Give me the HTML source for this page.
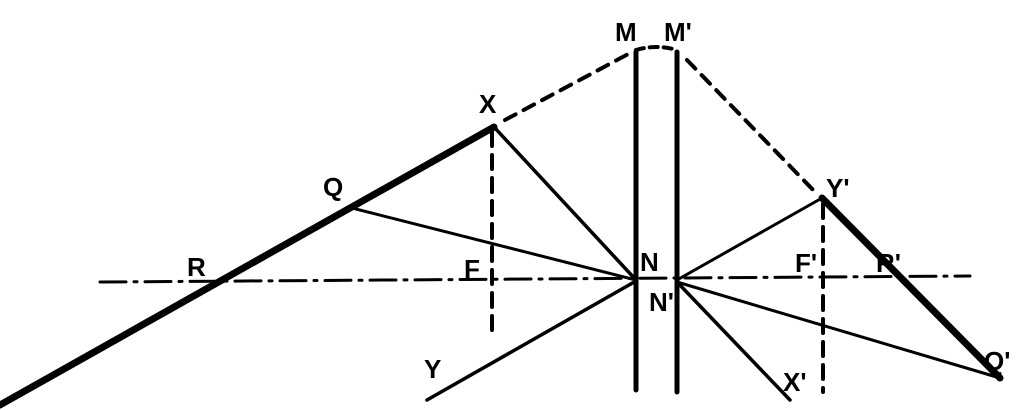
<!DOCTYPE html>
<html><head><style>
html,body{margin:0;padding:0;background:#fff;}
svg{display:block}
text{font-family:"Liberation Sans",sans-serif;font-weight:bold;font-size:26px;fill:#000}
</style></head><body>
<svg width="1024" height="410" viewBox="0 0 1024 410">
<g stroke="#000" fill="none" stroke-linecap="round">
<line x1="100" y1="282" x2="970" y2="276" stroke-width="3" stroke-dasharray="26,8,3,8"/>
<line x1="0" y1="405" x2="494" y2="127" stroke-width="7"/>
<line x1="822" y1="198" x2="1000" y2="378" stroke-width="7"/>
<line x1="636" y1="52" x2="636" y2="390" stroke-width="5"/>
<line x1="677" y1="52" x2="677" y2="392" stroke-width="5"/>
<path d="M636 50 Q656 44 677 50" stroke-width="4" stroke-dasharray="8,6"/>
<line x1="505" y1="120" x2="632" y2="52" stroke-width="4" stroke-dasharray="12,9"/>
<line x1="687" y1="60" x2="818" y2="195" stroke-width="4" stroke-dasharray="12,9"/>
<line x1="492" y1="132" x2="492" y2="330" stroke-width="4" stroke-dasharray="14,9"/>
<line x1="823" y1="204" x2="823" y2="392" stroke-width="4" stroke-dasharray="14,9"/>
<line x1="494" y1="127" x2="636" y2="280" stroke-width="3.5"/>
<line x1="348" y1="207" x2="636" y2="280" stroke-width="3"/>
<line x1="427" y1="400" x2="636" y2="281" stroke-width="3.5"/>
<line x1="677" y1="280" x2="822" y2="198" stroke-width="3"/>
<line x1="677" y1="282" x2="1000" y2="378" stroke-width="3"/>
<line x1="677" y1="282" x2="790" y2="400" stroke-width="3.5"/>
</g>
<text x="615" y="41">M</text><text x="664" y="41">M'</text>
<text x="479" y="113">X</text><text x="323" y="196">Q</text>
<text x="187" y="276">R</text><text x="464" y="278">F</text>
<text x="640" y="271">N</text><text x="649" y="311">N'</text>
<text x="826" y="197">Y'</text><text x="795" y="272">F'</text>
<text x="876" y="272">R'</text><text x="984" y="370">Q'</text>
<text x="783" y="391">X'</text><text x="424" y="378">Y</text>
</svg>
</body></html>
